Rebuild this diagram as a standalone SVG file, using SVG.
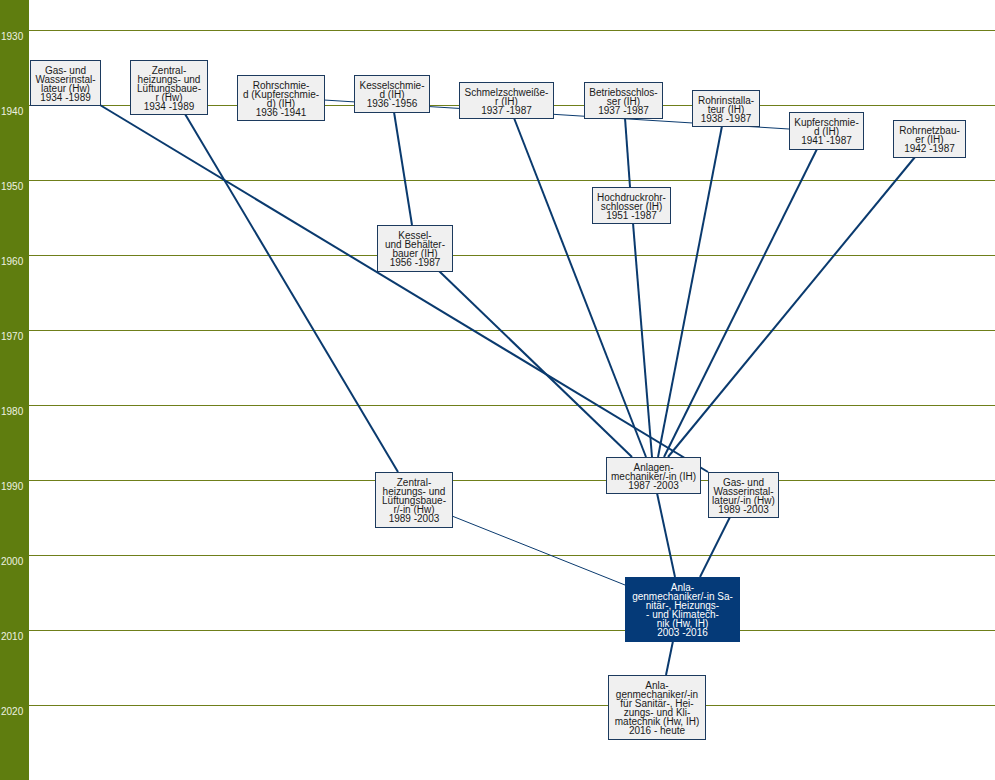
<svg xmlns="http://www.w3.org/2000/svg" width="995" height="780" viewBox="0 0 995 780">
<style>
.bg{fill:#ffffff}
.side{fill:#5f7d0f}
.grid{stroke:#6f7f1a;stroke-width:1}
.yr{font-family:"Liberation Sans",Arial,sans-serif;font-size:10px;fill:#eef2e0}
.node rect{fill:#f0f0f0;stroke:#1c3a5e;stroke-width:1}
.node text{font-family:"Liberation Sans",Arial,sans-serif;font-size:10px;fill:#1a1a1a;text-anchor:middle}
.dark rect{fill:#053a78;stroke:#053a78}
.dark text{fill:#ffffff}
.c{stroke:#0a3a6e;stroke-width:2;fill:none}
.t{stroke:#0a3a6e;stroke-width:1;fill:none}
</style>
<rect class="bg" x="0" y="0" width="995" height="780"/>
<g id="timeline">
<rect class="side" x="0" y="0" width="29" height="780"/>
<line class="grid" x1="29" y1="30.5" x2="995" y2="30.5"/>
<line class="grid" x1="29" y1="105.5" x2="995" y2="105.5"/>
<line class="grid" x1="29" y1="180.5" x2="995" y2="180.5"/>
<line class="grid" x1="29" y1="255.5" x2="995" y2="255.5"/>
<line class="grid" x1="29" y1="330.5" x2="995" y2="330.5"/>
<line class="grid" x1="29" y1="405.5" x2="995" y2="405.5"/>
<line class="grid" x1="29" y1="480.5" x2="995" y2="480.5"/>
<line class="grid" x1="29" y1="555.5" x2="995" y2="555.5"/>
<line class="grid" x1="29" y1="630.5" x2="995" y2="630.5"/>
<line class="grid" x1="29" y1="705.5" x2="995" y2="705.5"/>
<text class="yr" x="1" y="40">1930</text>
<text class="yr" x="1" y="115">1940</text>
<text class="yr" x="1" y="190">1950</text>
<text class="yr" x="1" y="265">1960</text>
<text class="yr" x="1" y="340">1970</text>
<text class="yr" x="1" y="415">1980</text>
<text class="yr" x="1" y="490">1990</text>
<text class="yr" x="1" y="565">2000</text>
<text class="yr" x="1" y="640">2010</text>
<text class="yr" x="1" y="715">2020</text>
</g>
<g id="connectors">
<line class="c" x1="100" y1="105" x2="708" y2="472"/>
<line class="c" x1="185" y1="114" x2="398" y2="472"/>
<line class="t" x1="324" y1="100" x2="789" y2="129"/>
<line class="c" x1="394" y1="112" x2="412" y2="225"/>
<line class="c" x1="625" y1="118" x2="630" y2="187"/>
<line class="c" x1="514" y1="118" x2="646" y2="457"/>
<line class="c" x1="633" y1="223" x2="652" y2="457"/>
<line class="c" x1="439" y1="271" x2="632" y2="457"/>
<line class="c" x1="722" y1="126" x2="658" y2="457"/>
<line class="c" x1="817" y1="149" x2="664" y2="457"/>
<line class="c" x1="915" y1="157" x2="668" y2="457"/>
<line class="c" x1="657" y1="493" x2="675" y2="577"/>
<line class="c" x1="730" y1="517" x2="700" y2="577"/>
<line class="t" x1="452" y1="516" x2="625" y2="585"/>
<line class="c" x1="673" y1="641" x2="666" y2="675"/>
</g>
<g id="n1" class="node"><rect x="30.5" y="60.5" width="70" height="45"/>
<text x="65.5" y="74">Gas- und</text><text x="65.5" y="83">Wasserinstal-</text><text x="65.5" y="92">lateur (Hw)</text><text x="65.5" y="101">1934 -1989</text></g>
<g id="n2" class="node"><rect x="130.5" y="60.5" width="77" height="54"/>
<text x="169" y="74">Zentral-</text><text x="169" y="83">heizungs- und</text><text x="169" y="92">Lüftungsbaue-</text><text x="169" y="101">r (Hw)</text><text x="169" y="110">1934 -1989</text></g>
<g id="n3" class="node"><rect x="237.5" y="75.5" width="87" height="45"/>
<text x="281" y="89">Rohrschmie-</text><text x="281" y="98">d (Kupferschmie-</text><text x="281" y="107">d) (IH)</text><text x="281" y="116">1936 -1941</text></g>
<g id="n4" class="node"><rect x="354.5" y="75.5" width="75" height="37"/>
<text x="392" y="89">Kesselschmie-</text><text x="392" y="98">d (IH)</text><text x="392" y="107">1936 -1956</text></g>
<g id="n5" class="node"><rect x="459.5" y="82.5" width="94" height="36"/>
<text x="506.5" y="96">Schmelzschweiße-</text><text x="506.5" y="105">r (IH)</text><text x="506.5" y="114">1937 -1987</text></g>
<g id="n6" class="node"><rect x="584.5" y="82.5" width="78" height="36"/>
<text x="623.5" y="96">Betriebsschlos-</text><text x="623.5" y="105">ser (IH)</text><text x="623.5" y="114">1937 -1987</text></g>
<g id="n7" class="node"><rect x="692.5" y="90.5" width="67" height="36"/>
<text x="726" y="104">Rohrinstalla-</text><text x="726" y="113">teur (IH)</text><text x="726" y="122">1938 -1987</text></g>
<g id="n8" class="node"><rect x="789.5" y="112.5" width="74" height="37"/>
<text x="826.5" y="126">Kupferschmie-</text><text x="826.5" y="135">d (IH)</text><text x="826.5" y="144">1941 -1987</text></g>
<g id="n9" class="node"><rect x="893.5" y="120.5" width="72" height="37"/>
<text x="929.5" y="134">Rohrnetzbau-</text><text x="929.5" y="143">er (IH)</text><text x="929.5" y="152">1942 -1987</text></g>
<g id="n10" class="node"><rect x="592.5" y="187.5" width="78" height="36"/>
<text x="631.5" y="201">Hochdruckrohr-</text><text x="631.5" y="210">schlosser (IH)</text><text x="631.5" y="219">1951 -1987</text></g>
<g id="n11" class="node"><rect x="377.5" y="225.5" width="75" height="46"/>
<text x="415" y="239">Kessel-</text><text x="415" y="248">und Behälter-</text><text x="415" y="257">bauer (IH)</text><text x="415" y="266">1956 -1987</text></g>
<g id="n12" class="node"><rect x="375.5" y="472.5" width="77" height="55"/>
<text x="414" y="486">Zentral-</text><text x="414" y="495">heizungs- und</text><text x="414" y="504">Lüftungsbaue-</text><text x="414" y="513">r/-in (Hw)</text><text x="414" y="522">1989 -2003</text></g>
<g id="n13" class="node"><rect x="606.5" y="457.5" width="94" height="36"/>
<text x="653.5" y="471">Anlagen-</text><text x="653.5" y="480">mechaniker/-in (IH)</text><text x="653.5" y="489">1987 -2003</text></g>
<g id="n14" class="node"><rect x="708.5" y="472.5" width="70" height="45"/>
<text x="743.5" y="486">Gas- und</text><text x="743.5" y="495">Wasserinstal-</text><text x="743.5" y="504">lateur/-in (Hw)</text><text x="743.5" y="513">1989 -2003</text></g>
<g id="n15" class="node dark"><rect x="625.5" y="577.5" width="114" height="64"/>
<text x="682.5" y="591">Anla-</text><text x="682.5" y="600">genmechaniker/-in Sa-</text><text x="682.5" y="609">nitär-, Heizungs-</text><text x="682.5" y="618">- und Klimatech-</text><text x="682.5" y="627">nik (Hw, IH)</text><text x="682.5" y="636">2003 -2016</text></g>
<g id="n16" class="node"><rect x="608.5" y="675.5" width="97" height="64"/>
<text x="657" y="689">Anla-</text><text x="657" y="698">genmechaniker/-in</text><text x="657" y="707">für Sanitär-, Hei-</text><text x="657" y="716">zungs- und Kli-</text><text x="657" y="725">matechnik (Hw, IH)</text><text x="657" y="734">2016 - heute</text></g>
</svg>
